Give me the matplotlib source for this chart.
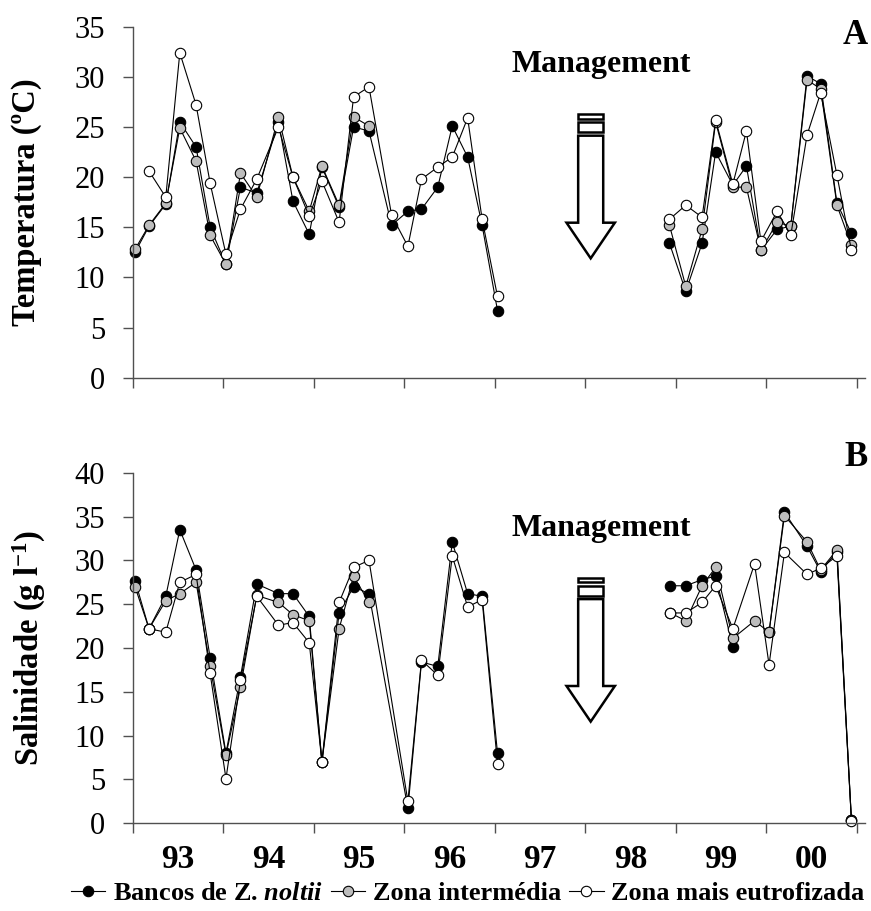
import numpy as np
import matplotlib
matplotlib.use('Agg')
import matplotlib.pyplot as plt
from matplotlib.patches import Polygon, Rectangle

plt.rcParams['font.family'] = ['Liberation Serif', 'DejaVu Serif']
plt.rcParams['mathtext.fontset'] = 'custom'
plt.rcParams['mathtext.rm'] = 'Liberation Serif:bold'
plt.rcParams['mathtext.it'] = 'Liberation Serif:italic:bold'

# sampling dates, in years since Jan 1993
dates_temp = [0.025, 0.18, 0.365, 0.52, 0.70, 0.855, 1.03, 1.19, 1.37, 1.61, 1.77, 1.95,
              2.09, 2.28, 2.44, 2.61, 2.86, 3.04, 3.19, 3.37, 3.53, 3.70, 3.86, 4.03,
              5.93, 6.11, 6.29, 6.44, 6.63, 6.78, 6.94, 7.12, 7.27, 7.45, 7.60, 7.78, 7.94]
dates_sal = [0.025, 0.18, 0.365, 0.52, 0.70, 0.855, 1.03, 1.19, 1.37, 1.61, 1.77, 1.95,
             2.09, 2.28, 2.44, 2.61, 3.04, 3.19, 3.37, 3.53, 3.70, 3.86, 4.03,
             5.94, 6.11, 6.29, 6.44, 6.63, 6.87, 7.03, 7.20, 7.45, 7.60, 7.78, 7.94]

nan = np.nan
# Temperatura (ºC)
temp_bancos = [12.5, 15.1, 17.3, 25.5, 23.0, 15.0, 11.3, 19.0, 18.4, 25.5, 17.6, 14.3,
               21.0, 17.0, 25.0, 24.6, 15.2, 16.6, 16.8, 19.0, 25.1, 22.0, 15.2, 6.7,
               13.4, 8.6, 13.4, 22.5, 19.2, 21.1, 12.7, 14.8, 15.1, 30.1, 29.3, 17.4, 14.4]
temp_interm = [12.8, 15.2, 17.4, 24.9, 21.6, 14.2, 11.3, 20.4, 18.0, 26.0, 20.0, 16.6,
               21.1, 17.2, 26.0, 25.1, nan, nan, nan, nan, nan, nan, nan, nan,
               15.2, 9.1, 14.8, 25.5, 19.0, 19.0, 12.7, 15.5, 15.1, 29.7, 28.8, 17.2, 13.2]
temp_eutrof = [nan, 20.6, 18.0, 32.4, 27.2, 19.4, 12.3, 16.8, 19.8, 25.0, 20.0, 16.1,
               19.6, 15.5, 28.0, 29.0, 16.2, 13.1, 19.8, 21.0, 22.0, 25.9, 15.8, 8.1,
               15.8, 17.2, 16.0, 25.7, 19.3, 24.6, 13.6, 16.6, 14.2, 24.2, 28.4, 20.2, 12.7]

# Salinidade (g/l)
sal_bancos = [27.7, 22.2, 25.9, 33.5, 28.9, 18.9, 8.0, 16.7, 27.3, 26.2, 26.2, 23.6,
              7.0, 24.0, 27.0, 26.2, 1.7, 18.4, 17.9, 32.1, 26.2, 25.9, 8.0,
              27.1, 27.1, 27.8, 28.2, 20.1, nan, 21.8, 35.5, 31.6, 28.7, 31.0, 0.4]
sal_interm = [27.0, 22.2, 25.4, 26.2, 27.5, 17.9, 7.8, 15.5, 26.0, 25.2, 23.8, 23.1,
              7.0, 22.2, 28.2, 25.2, nan, nan, nan, nan, nan, nan, nan,
              24.0, 23.1, 27.1, 29.2, 21.1, 23.1, 21.8, 35.1, 32.1, 28.9, 31.2, 0.4]
sal_eutrof = [nan, 22.2, 21.8, 27.5, 28.4, 17.1, 5.1, 16.3, 25.9, 22.6, 22.9, 20.6,
              7.0, 25.2, 29.2, 30.0, 2.5, 18.6, 16.9, 30.5, 24.7, 25.5, 6.8,
              24.0, 24.0, 25.2, 27.1, 22.2, 29.6, 18.1, 30.9, 28.4, 29.1, 30.5, 0.3]

year_labels = ['93', '94', '95', '96', '97', '98', '99', '00']
series_names = ['Bancos de Z. $\\mathit{noltii}$', 'Zona intermédia', 'Zona mais eutrofizada']
face_colors = ['black', '#bdbdbd', 'white']


def split_gap(x, y):
    # break the line where sampling stopped (1997-98)
    xs, ys = [], []
    for i in range(len(x)):
        if i > 0 and x[i] - x[i - 1] > 1:
            xs.append(nan); ys.append(nan)
        xs.append(x[i]); ys.append(y[i])
    return xs, ys


def management(ax, dy):
    xc, hw, hh = 0.6254, 0.0171, 0.033
    pts = [(xc - hw, 0.6895 + dy), (xc + hw, 0.6895 + dy), (xc + hw, 0.4416 + dy),
           (xc + hh, 0.4416 + dy), (xc, 0.340 + dy), (xc - hh, 0.4416 + dy),
           (xc - hw, 0.4416 + dy)]
    ax.add_patch(Polygon(pts, closed=True, transform=ax.transAxes, facecolor='white',
                         edgecolor='black', lw=1.8, clip_on=False))
    ax.add_patch(Rectangle((xc - hw, 0.699 + dy), 2 * hw, 0.0286, transform=ax.transAxes,
                           facecolor='white', edgecolor='black', lw=1.8, clip_on=False))
    ax.add_patch(Rectangle((xc - hw, 0.737 + dy), 2 * hw, 0.0134, transform=ax.transAxes,
                           facecolor='white', edgecolor='black', lw=1.8, clip_on=False))
    ax.text(0.6405, 0.891 + dy, 'Management', transform=ax.transAxes, ha='center',
            va='center', fontsize=23, fontweight='bold')


fig = plt.figure(figsize=(8.71, 9.11), dpi=100)
ax1 = fig.add_axes([0.1524, 0.5854, 0.8407, 0.3853])
ax2 = fig.add_axes([0.1524, 0.0963, 0.8407, 0.3848])

panels = [
    (ax1, dates_temp, [temp_bancos, temp_interm, temp_eutrof], 35, 'Temperatura (ºC)', 'A', 0.9735, 0.0, -0.124),
    (ax2, dates_sal, [sal_bancos, sal_interm, sal_eutrof], 40, 'Salinidade (g l$^{\\mathrm{-1}}$)', 'B', 1.043, -0.05, -0.116),
]

for ax, dates, series, ymax, ylabel, letter, ly, dy, lx in panels:
    for vals, fc, name in zip(series, face_colors, series_names):
        xs, ys = split_gap(dates, vals)
        ax.plot(xs, ys, color='black', lw=0.8, marker='o', ms=7.5, mfc=fc, mec='black',
                mew=0.8, clip_on=False, label=name)
    ax.set_xlim(0, 8.09)
    ax.set_ylim(0, ymax)
    ax.set_yticks(np.arange(0, ymax + 1, 5))
    ax.set_xticks(np.arange(0, 9))
    ax.set_xticklabels([])
    ax.set_xticks(np.arange(0.5, 8), minor=True)
    for s in ['top', 'right']:
        ax.spines[s].set_visible(False)
    for s in ['left', 'bottom']:
        ax.spines[s].set_color('#505050')
        ax.spines[s].set_linewidth(1.0)
    ax.tick_params(axis='both', which='major', direction='out', length=7, width=1.0,
                   color='#505050', labelsize=22, pad=13)
    ax.tick_params(axis='x', which='minor', length=0, pad=15, labelsize=24)
    ax.set_ylabel(ylabel, fontsize=23.5, fontweight='bold')
    ax.yaxis.set_label_coords(lx, 0.5)
    ax.text(1.004, ly, letter, transform=ax.transAxes, ha='right', va='center',
            fontsize=25, fontweight='bold')
    management(ax, dy)

ax1.set_xticklabels([], minor=True)
ax2.set_xticklabels(year_labels, minor=True, fontweight='bold')

handles, labels = ax2.get_legend_handles_labels()
fig.legend(handles, labels, loc='center', bbox_to_anchor=(0.537, 0.019), ncol=3,
           frameon=False, prop={'size': 19, 'weight': 'bold'}, handlelength=1.3,
           handletextpad=0.3, columnspacing=0.3)

fig.savefig('out.png', dpi=100)
